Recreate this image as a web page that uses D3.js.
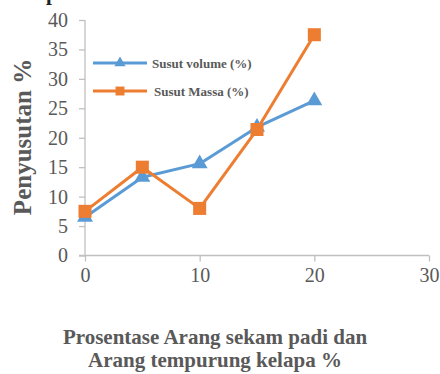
<!DOCTYPE html>
<html>
<head>
<meta charset="utf-8">
<script src="https://cdn.jsdelivr.net/npm/d3@7"></script>
<style>
  html, body { margin: 0; padding: 0; background: #fff; }
  svg { display: block; }
</style>
</head>
<body>
<svg id="chart" width="440" height="374"></svg>
<script>
// Shrinkage (%) against charcoal mix percentage
const mixPercent = [0, 5, 10, 15, 20];
const susutVolume = [6.5, 13.3, 15.6, 21.8, 26.3];
const susutMassa = [7.5, 15.0, 8.0, 21.4, 37.5];
const seriesNames = ["Susut volume (%)", "Susut Massa (%)"];
const xTicks = [0, 10, 20, 30];
const yTicks = [0, 5, 10, 15, 20, 25, 30, 35, 40];
const xTitleLines = ["Prosentase Arang sekam padi dan", "Arang tempurung kelapa %"];
const yTitle = "Penyusutan %";

const svg = d3.select("#chart");
const serif = "'Liberation Serif', 'Times New Roman', serif";
const textGray = "#595959";
const axisGray = "#c0c0c0";
const colors = ["#5b9bd5", "#ed7d31"];

const x = d3.scaleLinear().domain([0, 30]).range([85, 429]);
const y = d3.scaleLinear().domain([0, 40]).range([255.5, 20]);

// cut-off heading fragment at the very top
svg.append("text")
  .attr("x", 46).attr("y", 0)
  .attr("font-family", serif).attr("font-weight", "bold")
  .attr("font-size", 21).attr("fill", "#222")
  .text("p");

// y axis
const yAxis = svg.append("g")
  .attr("transform", `translate(${x(0)},0)`)
  .call(d3.axisLeft(y).tickValues(yTicks).tickSize(6).tickPadding(11));
yAxis.select(".domain").attr("stroke", axisGray).attr("stroke-width", 1.3)
  .attr("d", `M0,${y(40)}V${y(0)}`);
yAxis.selectAll(".tick line").attr("stroke", axisGray).attr("stroke-width", 1.3);
yAxis.selectAll(".tick text")
  .attr("font-family", serif).attr("font-size", 20).attr("fill", textGray);

// x axis
const xAxis = svg.append("g")
  .attr("transform", `translate(0,${y(0)})`)
  .call(d3.axisBottom(x).tickValues(xTicks).tickSize(6).tickPadding(6));
xAxis.select(".domain").attr("stroke", axisGray).attr("stroke-width", 1.3)
  .attr("d", `M${x(0) - 6},0H${x(30)}`);
xAxis.selectAll(".tick line").attr("stroke", axisGray).attr("stroke-width", 1.3);
xAxis.selectAll(".tick text")
  .attr("font-family", serif).attr("font-size", 20).attr("fill", textGray);

// axis titles
svg.append("text")
  .attr("transform", `translate(31,137) rotate(-90)`)
  .attr("text-anchor", "middle")
  .attr("font-family", serif).attr("font-weight", "bold")
  .attr("font-size", 25).attr("fill", textGray)
  .text(yTitle);

svg.append("text")
  .attr("text-anchor", "middle")
  .attr("font-family", serif).attr("font-weight", "bold")
  .attr("font-size", 21).attr("fill", textGray)
  .selectAll("tspan").data(xTitleLines).join("tspan")
  .attr("x", 215).attr("y", (d, i) => 344 + i * 23)
  .text(d => d);

// series
const series = [
  { name: seriesNames[0], values: susutVolume, color: colors[0], shape: d3.symbolTriangle },
  { name: seriesNames[1], values: susutMassa, color: colors[1], shape: d3.symbolSquare }
];

const line = d3.line().x((d, i) => x(mixPercent[i])).y(d => y(d));

series.forEach(s => {
  svg.append("path")
    .datum(s.values)
    .attr("d", line)
    .attr("fill", "none")
    .attr("stroke", s.color)
    .attr("stroke-width", 3)
    .attr("stroke-linejoin", "round");
});

series.forEach(s => {
  const size = s.shape === d3.symbolSquare ? 170 : 110;
  svg.append("g").selectAll("path").data(s.values).join("path")
    .attr("transform", (d, i) => `translate(${x(mixPercent[i])},${y(d)})`)
    .attr("d", d3.symbol().type(s.shape).size(size))
    .attr("fill", s.color);
});

// legend
const legend = svg.append("g");
series.forEach((s, i) => {
  const ly = 63 + i * 28;
  const g = legend.append("g").attr("transform", `translate(0,${ly})`);
  g.append("line").attr("x1", 93).attr("x2", 147).attr("y1", 0).attr("y2", 0)
    .attr("stroke", s.color).attr("stroke-width", 3);
  g.append("path")
    .attr("transform", "translate(120,0)")
    .attr("d", d3.symbol().type(s.shape).size(s.shape === d3.symbolSquare ? 80 : 55))
    .attr("fill", s.color);
  g.append("text")
    .attr("x", i === 0 ? 152 : 154).attr("y", 0).attr("dy", "0.35em")
    .attr("font-family", serif).attr("font-weight", "bold")
    .attr("font-size", 13).attr("fill", textGray)
    .text(s.name);
});
</script>
</body>
</html>
